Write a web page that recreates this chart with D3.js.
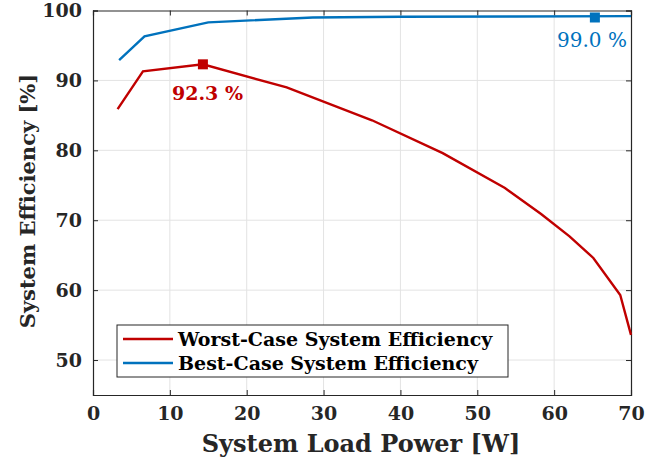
<!DOCTYPE html>
<html>
<head>
<meta charset="utf-8">
<script src="https://cdn.jsdelivr.net/npm/d3@7"></script>
<style>
  html, body { margin: 0; padding: 0; background: #fff; }
  svg { display: block; }
  text { font-family: "DejaVu Serif", "Liberation Serif", serif; }
</style>
</head>
<body>
<svg id="chart" width="667" height="461"></svg>
<script>
// Worst-case efficiency curve (load power in W, efficiency in %)
const worstPower = [3.2, 6.5, 14.3, 25.2, 36.3, 45.5, 53.6, 58.3, 62.0, 65.1, 68.6, 70.0];
const worstEff   = [85.9, 91.3, 92.3, 89.0, 84.3, 79.6, 74.6, 70.9, 67.7, 64.6, 59.3, 53.6];
// Best-case efficiency curve
const bestPower = [3.4, 6.7, 15.0, 28.6, 40.0, 55.0, 70.0];
const bestEff   = [92.9, 96.3, 98.3, 99.0, 99.1, 99.15, 99.2];
// Highlighted peak points
const worstPeak = { power: 14.3, eff: 92.3 };
const bestPeak  = { power: 65.3, eff: 99.0 };

const xTicks = [0, 10, 20, 30, 40, 50, 60, 70];
const yTicks = [50, 60, 70, 80, 90, 100];
const seriesNames = ["Worst-Case System Efficiency", "Best-Case System Efficiency"];
const seriesColors = ["#c00000", "#0072bd"];

const svg = d3.select("#chart");
const m = { left: 93, right: 36, top: 10.5, bottom: 66 };
const W = 667, H = 461;
const x = d3.scaleLinear().domain([0, 70]).range([m.left, W - m.right]);
const y = d3.scaleLinear().domain([45, 100]).range([H - m.bottom, m.top]);

const axisColor = "#262626";

// grid
const grid = svg.append("g");
grid.selectAll(".gx").data(xTicks.slice(1, -1)).join("line")
  .attr("x1", d => x(d)).attr("x2", d => x(d))
  .attr("y1", y(45)).attr("y2", y(100))
  .attr("stroke", "#e3e3e3").attr("stroke-width", 1);
grid.selectAll(".gy").data(yTicks.slice(0, -1)).join("line")
  .attr("y1", d => y(d)).attr("y2", d => y(d))
  .attr("x1", x(0)).attr("x2", x(70))
  .attr("stroke", "#e3e3e3").attr("stroke-width", 1);

// axes with inward ticks
const tickLen = 5;
const xAxis = svg.append("g").attr("transform", `translate(0,${y(45)})`)
  .call(d3.axisBottom(x).tickValues(xTicks).tickSize(-tickLen).tickPadding(12));
const yAxis = svg.append("g").attr("transform", `translate(${x(0)},0)`)
  .call(d3.axisLeft(y).tickValues(yTicks).tickSize(-tickLen).tickPadding(11));
const xTop = svg.append("g").attr("transform", `translate(0,${y(100)})`)
  .call(d3.axisTop(x).tickValues(xTicks).tickSize(-tickLen).tickFormat(""));
const yRight = svg.append("g").attr("transform", `translate(${x(70)},0)`)
  .call(d3.axisRight(y).tickValues(yTicks).tickSize(-tickLen).tickFormat(""));

[xAxis, yAxis, xTop, yRight].forEach(g => {
  g.select(".domain").attr("stroke", axisColor).attr("stroke-width", 1.2);
  g.selectAll(".tick line").attr("stroke", axisColor).attr("stroke-width", 1);
  g.selectAll(".tick text")
    .attr("fill", axisColor)
    .style("font-family", '"DejaVu Serif", serif')
    .style("font-weight", "bold")
    .style("font-size", "19px");
});

// curves
const line = d3.line().x(d => x(d[0])).y(d => y(d[1]));
const worst = worstPower.map((p, i) => [p, worstEff[i]]);
const best = bestPower.map((p, i) => [p, bestEff[i]]);

const plot = svg.append("g");
plot.append("path").datum(worst).attr("d", line)
  .attr("fill", "none").attr("stroke", seriesColors[0]).attr("stroke-width", 2.4);
plot.append("path").datum(best).attr("d", line)
  .attr("fill", "none").attr("stroke", seriesColors[1]).attr("stroke-width", 2.4);

// peak markers
const ms = 10;
plot.append("rect")
  .attr("x", x(worstPeak.power) - ms / 2).attr("y", y(worstPeak.eff) - ms / 2)
  .attr("width", ms).attr("height", ms).attr("fill", seriesColors[0]);
plot.append("rect")
  .attr("x", x(bestPeak.power) - ms / 2).attr("y", y(bestPeak.eff) - ms / 2)
  .attr("width", ms).attr("height", ms).attr("fill", seriesColors[1]);

// peak annotations
svg.append("text")
  .attr("x", 207.5).attr("y", 100)
  .attr("text-anchor", "middle")
  .attr("fill", seriesColors[0])
  .style("font-size", "19px").style("font-weight", "bold")
  .text(worstPeak.eff.toFixed(1) + " %");
svg.append("text")
  .attr("x", 592).attr("y", 47)
  .attr("text-anchor", "middle")
  .attr("fill", seriesColors[1])
  .style("font-size", "20px")
  .text(bestPeak.eff.toFixed(1) + " %");

// axis titles
svg.append("text")
  .attr("x", 361).attr("y", 452)
  .attr("text-anchor", "middle").attr("fill", axisColor)
  .style("font-size", "24px").style("font-weight", "bold")
  .text("System Load Power [W]");
svg.append("text")
  .attr("transform", `translate(35,201) rotate(-90)`)
  .attr("text-anchor", "middle").attr("fill", axisColor)
  .style("font-size", "21px").style("font-weight", "bold")
  .text("System Efficiency [%]");

// legend
const lg = svg.append("g").attr("transform", "translate(117,325)");
lg.append("rect").attr("width", 391).attr("height", 52)
  .attr("fill", "#fff").attr("stroke", axisColor).attr("stroke-width", 1);
seriesNames.forEach((name, i) => {
  const ly = 14 + i * 24;
  lg.append("line").attr("x1", 6).attr("x2", 56).attr("y1", ly).attr("y2", ly)
    .attr("stroke", seriesColors[i]).attr("stroke-width", 2.4);
  lg.append("text").attr("x", 61).attr("y", ly + 6.5)
    .attr("fill", "#000")
    .style("font-size", "19px").style("font-weight", "bold")
    .text(name);
});
</script>
</body>
</html>
